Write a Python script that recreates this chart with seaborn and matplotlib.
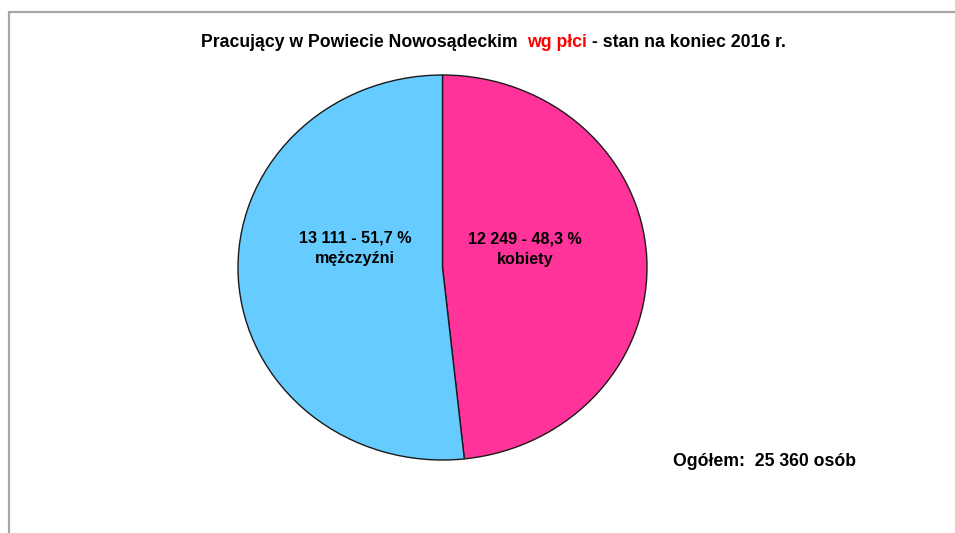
import matplotlib
matplotlib.use("Agg")
import matplotlib.pyplot as plt
import seaborn as sns

# dane
kategorie = ["kobiety", "mężczyźni"]
liczby = [12249, 13111]
procenty = ["48,3", "51,7"]
kolory = ["#FF3399", "#66CCFF"]
ogolem = "25 360"

sns.set_theme(style="white")
plt.rcParams['font.family'] = ['Liberation Sans', 'DejaVu Sans']
plt.rcParams['text.color'] = 'black'

fig = plt.figure(figsize=(9.55, 5.33), dpi=100)
W, H = 955, 533

# ramka (tylko lewa i gorna krawedz)
fig.add_artist(plt.Line2D([8.5 / W, 8.5 / W], [0, 1 - 11.5 / H], color="#a6a6a6", lw=1.6))
fig.add_artist(plt.Line2D([8.5 / W, 1], [1 - 11.5 / H, 1 - 11.5 / H], color="#a6a6a6", lw=1.6))

# wykres kolowy
ax = fig.add_axes([238 / W, (H - 460) / H, 409 / W, 385 / H])
ax.pie(liczby, colors=kolory, startangle=90, counterclock=False,
       wedgeprops=dict(edgecolor="#1a1a1a", linewidth=1.0))
ax.set_aspect("auto")
ax.set_xlim(-1, 1)
ax.set_ylim(-1, 1)
ax.axis("off")

def fmt(n):
    return f"{n:,}".replace(",", " ")

# etykiety
ax.text(-0.428, 0.10, f"{fmt(liczby[1])} - {procenty[1]} %\n{kategorie[1]}",
        ha="center", va="center", fontsize=11.6, fontweight="bold", linespacing=1.4,
        color="black")
ax.text(0.405, 0.095, f"{fmt(liczby[0])} - {procenty[0]} %\n{kategorie[0]}",
        ha="center", va="center", fontsize=11.6, fontweight="bold", linespacing=1.4,
        color="black")

# tytul w kilku kolorach
czesci = [("Pracujący w Powiecie Nowosądeckim  ", "black"),
          ("wg płci", "#FF0000"),
          (" - stan na koniec 2016 r.", "black")]
renderer = fig.canvas.get_renderer()
x = 201 / W
for tekst, kolor in czesci:
    t = fig.text(x, 1 - 42.5 / H, tekst, color=kolor, fontsize=12.7, fontweight="bold",
                 ha="left", va="center")
    bb = t.get_window_extent(renderer=renderer)
    x += bb.width / W

fig.text(673 / W, 1 - 461 / H, f"Ogółem:  {ogolem} osób", fontsize=12.7,
         fontweight="bold", ha="left", va="center", color="black")

fig.savefig("out.png", dpi=100, facecolor="white")
